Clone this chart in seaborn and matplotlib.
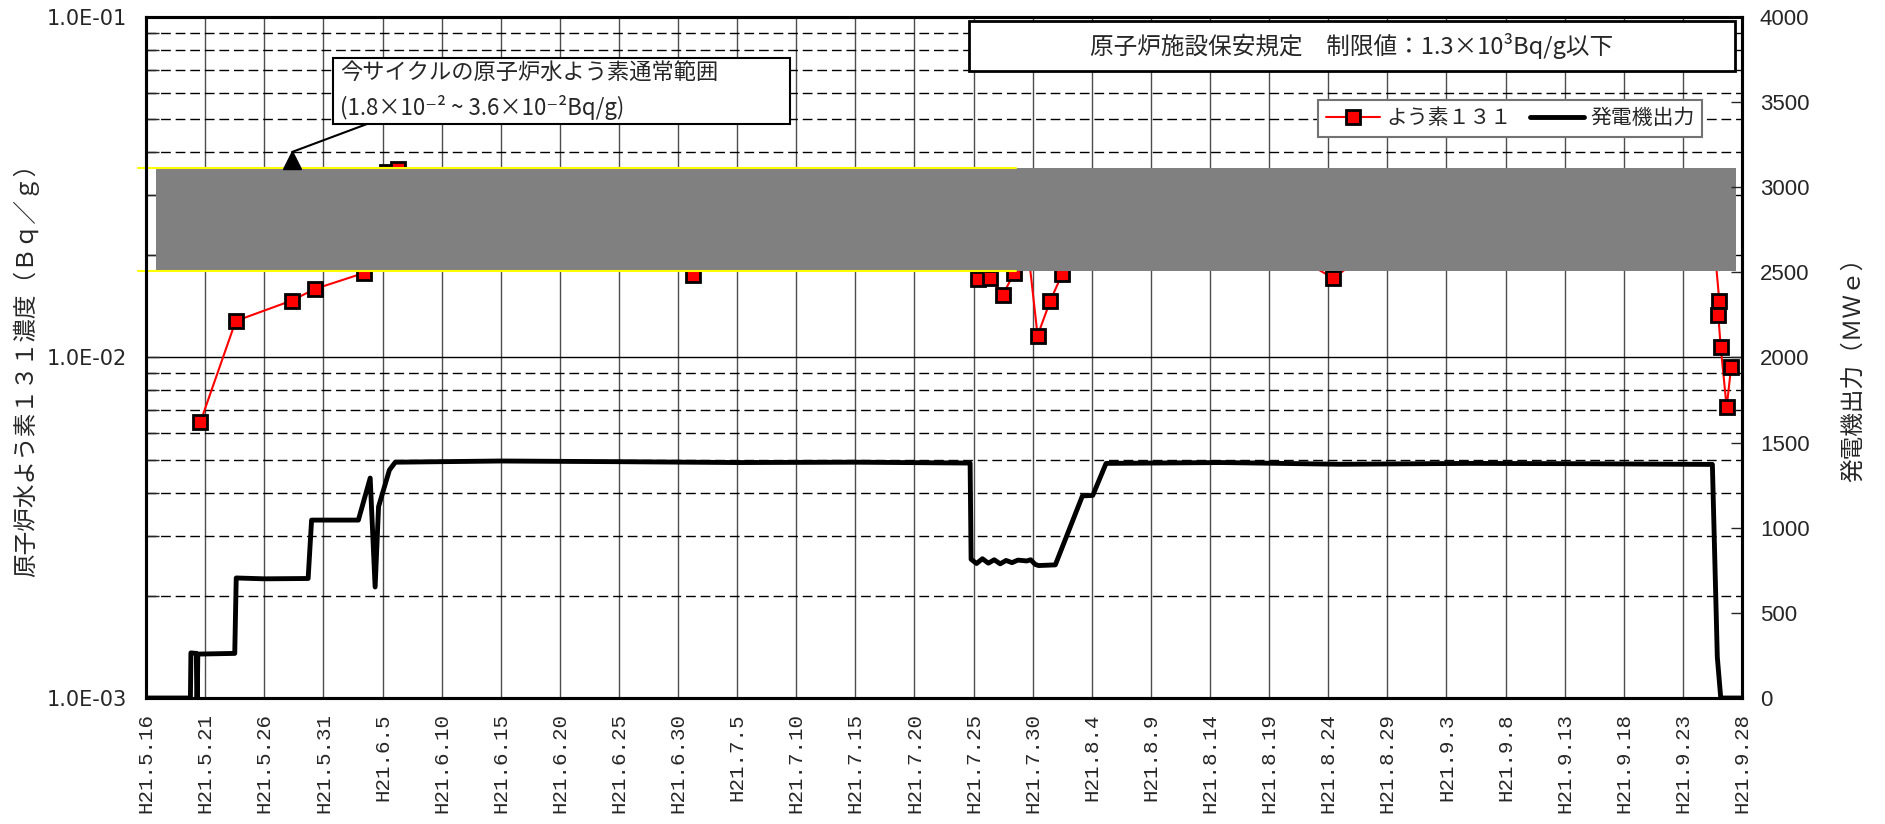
import pandas as pd
import matplotlib.pyplot as plt
import seaborn as sns
from matplotlib.patches import Rectangle
from matplotlib.ticker import LogLocator, NullFormatter

# --- データ ---
iodine_dates = [
    '2009-05-20 14:00', '2009-05-23 14:00', '2009-05-28 08:00', '2009-05-30 07:00',
    '2009-06-03 10:00', '2009-06-05 10:00', '2009-06-06 07:00', '2009-06-10 00:00',
    '2009-06-14 00:00', '2009-06-17 00:00', '2009-06-21 00:00', '2009-06-24 00:00',
    '2009-06-27 00:00', '2009-07-01 07:00', '2009-07-05 00:00', '2009-07-09 00:00',
    '2009-07-12 00:00', '2009-07-16 00:00', '2009-07-19 00:00', '2009-07-22 00:00',
    '2009-07-24 00:00', '2009-07-25 10:00', '2009-07-26 10:00', '2009-07-27 12:00',
    '2009-07-28 10:00', '2009-07-29 07:00', '2009-07-30 10:00', '2009-07-31 12:00',
    '2009-08-01 12:00', '2009-08-04 00:00', '2009-08-08 00:00', '2009-08-12 00:00',
    '2009-08-16 00:00', '2009-08-20 00:00', '2009-08-24 10:00', '2009-08-28 00:00',
    '2009-09-01 00:00', '2009-09-05 00:00', '2009-09-09 00:00', '2009-09-13 00:00',
    '2009-09-17 00:00', '2009-09-21 00:00', '2009-09-25 14:00', '2009-09-26 02:00',
    '2009-09-26 00:00', '2009-09-26 05:00', '2009-09-26 17:00', '2009-09-27 02:00',
]
iodine_values = [
    6.45e-3, 1.28e-2, 1.47e-2, 1.59e-2,
    1.77e-2, 3.50e-2, 3.58e-2, 2.8e-2,
    2.6e-2, 2.4e-2, 2.2e-2, 2.3e-2,
    2.1e-2, 1.75e-2, 2.1e-2, 2.3e-2,
    2.0e-2, 2.2e-2, 2.1e-2, 2.4e-2,
    2.2e-2, 1.70e-2, 1.71e-2, 1.53e-2,
    1.77e-2, 2.6e-2, 1.16e-2, 1.47e-2,
    1.76e-2, 2.3e-2, 2.1e-2, 2.2e-2,
    2.0e-2, 2.1e-2, 1.71e-2, 2.1e-2,
    2.0e-2, 2.2e-2, 2.1e-2, 2.0e-2,
    2.2e-2, 2.1e-2, 2.3e-2, 1.47e-2,
    1.33e-2, 1.07e-2, 7.15e-3, 9.35e-3,
]

power_dates = [
    '2009-05-16 00:00', '2009-05-19 18:00', '2009-05-19 19:00', '2009-05-20 06:00',
    '2009-05-20 07:00', '2009-05-20 08:00', '2009-05-20 09:00', '2009-05-23 12:00',
    '2009-05-23 15:00', '2009-05-26 00:00', '2009-05-29 17:00', '2009-05-30 00:00',
    '2009-06-02 23:00', '2009-06-03 23:00', '2009-06-04 09:00', '2009-06-04 16:00',
    '2009-06-05 14:00', '2009-06-06 02:00', '2009-06-15 00:00', '2009-06-25 00:00',
    '2009-07-05 00:00', '2009-07-15 00:00', '2009-07-24 17:00', '2009-07-24 19:00',
    '2009-07-25 06:00', '2009-07-25 18:00', '2009-07-26 06:00', '2009-07-26 18:00',
    '2009-07-27 06:00', '2009-07-27 18:00', '2009-07-28 06:00', '2009-07-28 18:00',
    '2009-07-29 12:00', '2009-07-29 20:00', '2009-07-30 05:00', '2009-07-30 12:00',
    '2009-07-31 22:00', '2009-08-03 05:00', '2009-08-04 02:00', '2009-08-05 05:00',
    '2009-08-15 00:00', '2009-08-25 00:00', '2009-09-05 00:00', '2009-09-15 00:00',
    '2009-09-25 12:00', '2009-09-25 22:00', '2009-09-26 05:00', '2009-09-28 00:00',
]
power_mw = [
    0, 0, 265, 262,
    0, 0, 258, 262,
    705, 700, 702, 1045,
    1045, 1292, 652, 1124,
    1339, 1385, 1392, 1388,
    1383, 1385, 1380, 815,
    790, 818, 792, 812,
    788, 808, 795, 810,
    805, 812, 785, 778,
    782, 1187, 1190, 1378,
    1383, 1373, 1378, 1376,
    1372, 241, 0, 0,
]

tick_labels = [
    'H21.5.16', 'H21.5.21', 'H21.5.26', 'H21.5.31', 'H21.6.5', 'H21.6.10', 'H21.6.15',
    'H21.6.20', 'H21.6.25', 'H21.6.30', 'H21.7.5', 'H21.7.10', 'H21.7.15', 'H21.7.20',
    'H21.7.25', 'H21.7.30', 'H21.8.4', 'H21.8.9', 'H21.8.14', 'H21.8.19', 'H21.8.24',
    'H21.8.29', 'H21.9.3', 'H21.9.8', 'H21.9.13', 'H21.9.18', 'H21.9.23', 'H21.9.28',
]
left_ticks = [1e-3, 1e-2, 1e-1]
left_tick_labels = ['1.0E-03', '1.0E-02', '1.0E-01']
right_ticks = [0, 500, 1000, 1500, 2000, 2500, 3000, 3500, 4000]

band_lo, band_hi = 1.8e-2, 3.6e-2

iodine = pd.DataFrame({'date': pd.to_datetime(iodine_dates), 'value': iodine_values})
power = pd.DataFrame({'date': pd.to_datetime(power_dates), 'mw': power_mw})
tick_dates = pd.date_range('2009-05-16', periods=len(tick_labels), freq='5D')

# --- スタイル ---
sns.set_style('white')
cjk = ['Noto Sans CJK JP', 'DejaVu Sans']
plt.rcParams['font.family'] = cjk

fig, ax = plt.subplots(figsize=(18.85, 8.24), dpi=100)
fig.subplots_adjust(left=0.0775, right=0.9241, top=0.9794, bottom=0.1529)
ax2 = ax.twinx()

# よう素131
sns.lineplot(data=iodine, x='date', y='value', ax=ax, color='red', linewidth=1.5,
             marker='s', markersize=9.5, markerfacecolor='red', markeredgecolor='black',
             markeredgewidth=2, sort=False, estimator=None, legend=False, zorder=3)
iod_line = ax.lines[-1]

# 発電機出力
sns.lineplot(data=power, x='date', y='mw', ax=ax2, color='black', linewidth=3.5,
             sort=False, estimator=None, legend=False)
pow_line = ax2.lines[-1]

# 通常範囲の帯
ax.axhspan(band_lo, band_hi, xmin=0.006, xmax=0.996, color='#808080', lw=0, zorder=4)
for yv in (band_lo, band_hi):
    ax.plot([-0.005, 0.545], [yv, yv], color='#ffff00', lw=1.5,
            transform=ax.get_yaxis_transform(), clip_on=False, zorder=5)

# 軸
ax.set_yscale('log')
ax.set_ylim(1e-3, 1e-1)
ax.set_yticks(left_ticks)
ax.set_yticklabels(left_tick_labels, fontfamily='DejaVu Sans', fontsize=15)
ax.yaxis.set_minor_locator(LogLocator(base=10, subs=range(2, 10)))
ax.yaxis.set_minor_formatter(NullFormatter())
ax.set_xlim(pd.Timestamp('2009-05-16'), pd.Timestamp('2009-09-28'))
ax.set_xticks(tick_dates)
ax.set_xticklabels(tick_labels, rotation=90, fontfamily='Liberation Mono', fontsize=15)
ax.tick_params(axis='x', length=0, pad=11)
ax.tick_params(axis='y', which='both', direction='in', length=9, width=1, pad=14,
               left=True, right=False)

ax2.set_ylim(0, 4000)
ax2.set_yticks(right_ticks)
ax2.set_yticklabels([str(v) for v in right_ticks], fontfamily='Liberation Sans', fontsize=16)
ax2.tick_params(axis='y', direction='in', length=8, width=1, pad=13, right=True)
ax2.grid(False)

ax.set_axisbelow(True)
ax.grid(True, which='major', axis='y', color='black', lw=1)
ax.grid(True, which='minor', axis='y', color='black', lw=1, ls=(0, (7, 3.5)))
ax.grid(True, which='major', axis='x', color='0.3', lw=1)

for a in (ax, ax2):
    for s in a.spines.values():
        s.set_color('black')
        s.set_linewidth(2.2)
        s.set_visible(True)

ax.set_xlabel('')
ax.set_ylabel('原子炉水よう素１３１濃度（Ｂｑ／ｇ）', fontsize=17, va='center')
ax.yaxis.set_label_coords(-0.0752, 0.49)
ax2.set_ylabel('発電機出力（ＭＷｅ）', fontsize=17, va='center')
ax2.yaxis.set_label_coords(1.0702, 0.49)

# 注記
ax.add_patch(Rectangle((0.5157, 0.9207), 0.4799, 0.0734, transform=ax.transAxes,
                       fc='white', ec='black', lw=2, zorder=6))
ax.text(0.7556, 0.9574, '原子炉施設保安規定　制限値：1.3×10³Bq/g以下', transform=ax.transAxes,
        ha='center', va='center', fontsize=17, zorder=7)

ax.add_patch(Rectangle((0.1172, 0.8429), 0.2863, 0.0969, transform=ax.transAxes,
                       fc='white', ec='black', lw=1.5, zorder=6))
ax.text(0.1215, 0.9178, '今サイクルの原子炉水よう素通常範囲', transform=ax.transAxes,
        ha='left', va='center', fontsize=16, zorder=7)
ax.text(0.1215, 0.8678, '(1.8×10⁻² ~ 3.6×10⁻²Bq/g)', transform=ax.transAxes,
        ha='left', va='center', fontsize=16, zorder=7)
ax.annotate('', xy=(0.0915, 0.8018), xytext=(0.1385, 0.8429),
            xycoords='axes fraction', textcoords='axes fraction',
            arrowprops=dict(arrowstyle='-', color='black', lw=1.5, shrinkA=0, shrinkB=0),
            zorder=7)
ax.plot(0.0915, 0.7893, marker='^', ms=13, color='black', transform=ax.transAxes,
        clip_on=False, zorder=7)

# 凡例
leg = ax2.legend([iod_line, pow_line], ['よう素１３１', '発電機出力'], loc='upper right',
                 bbox_to_anchor=(0.975, 0.878), ncol=2, fancybox=False, framealpha=1,
                 edgecolor='0.45', prop={'family': cjk, 'size': 15}, handlelength=2.6,
                 handletextpad=0.3, columnspacing=0.9, borderpad=0.35, borderaxespad=0)
leg.get_frame().set_linewidth(1.5)

plt.savefig('out.png', dpi=100, facecolor='white')
